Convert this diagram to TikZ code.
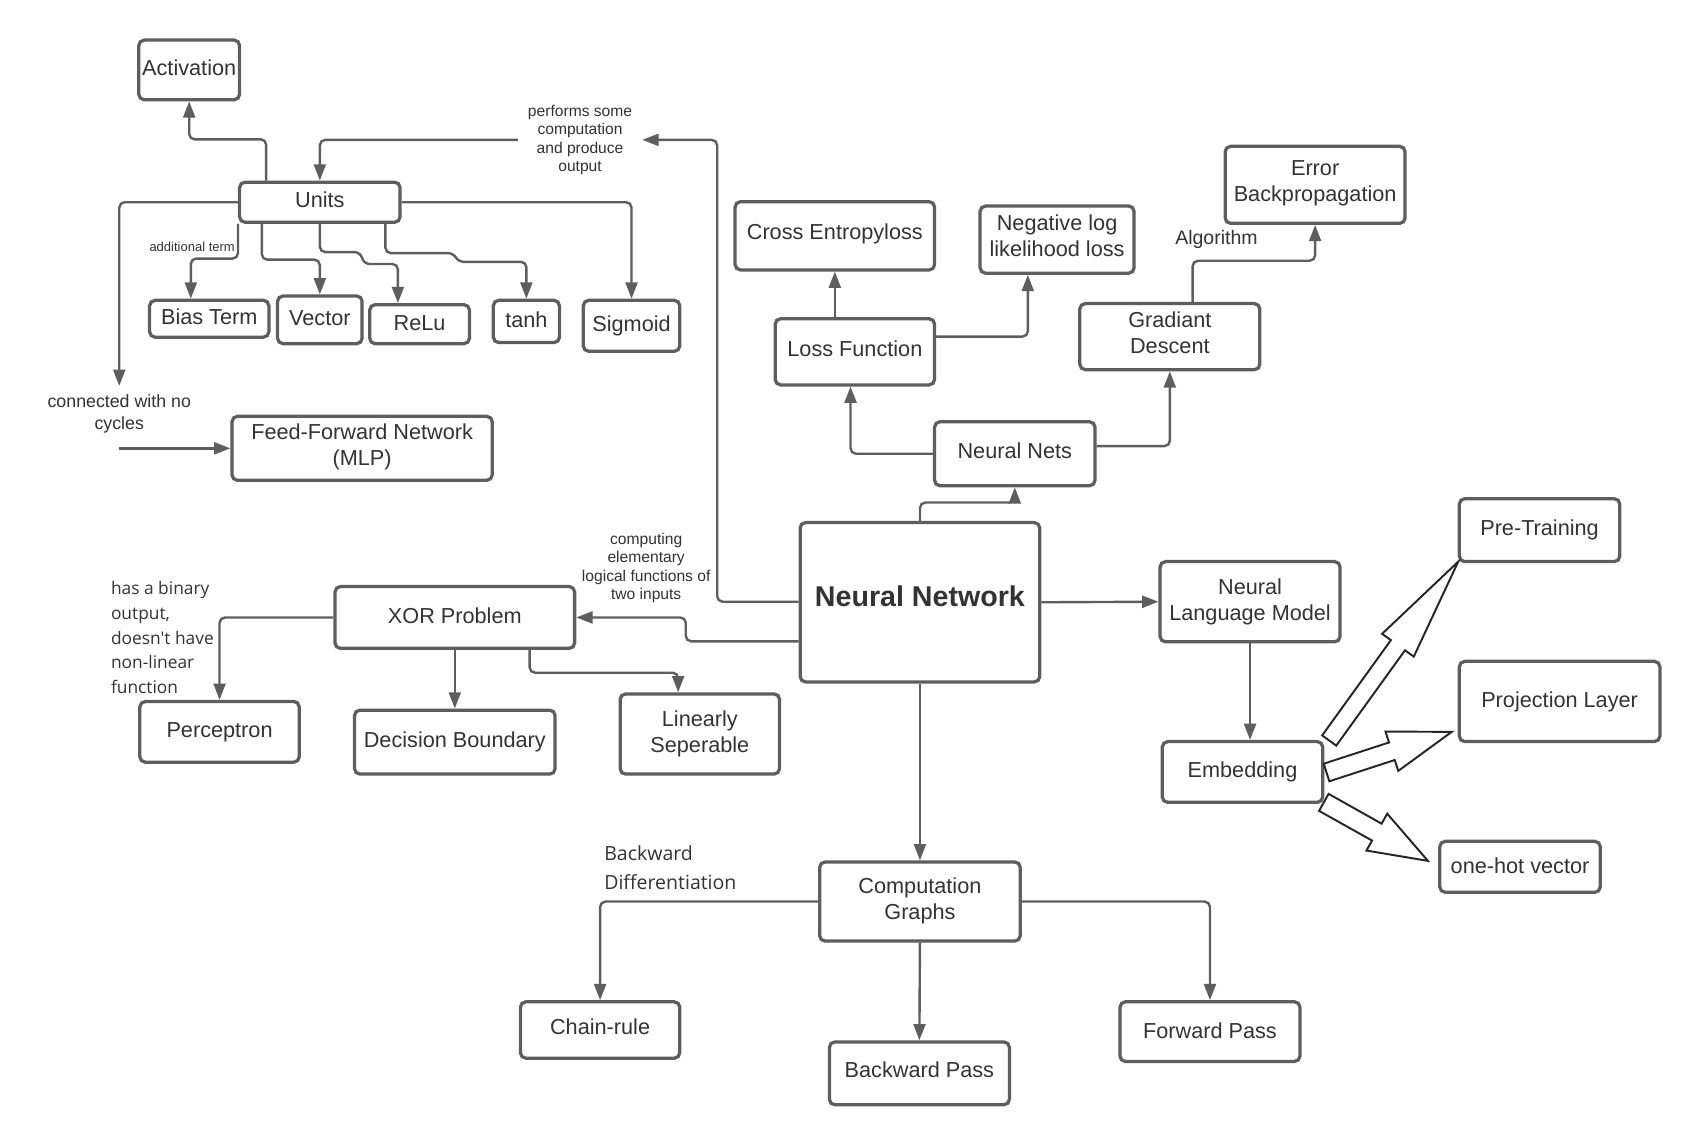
\documentclass[tikz,border=0pt]{standalone}
\usepackage{fontspec}
\setmainfont{Liberation Sans}
\newfontfamily\osans{Open Sans}
\usetikzlibrary{arrows.meta,calc}
\definecolor{ln}{HTML}{5E5E5E}
\definecolor{tx}{HTML}{333333}
\tikzset{
 box/.style={draw=ln, line width=1.5pt, rounded corners=2.5pt, fill=white, inner sep=0pt},
 boxtext/.style={text=tx, inner sep=0pt, align=center, font=\fontsize{10}{12}\selectfont},
 conn/.style={draw=ln, line width=1.1pt, rounded corners=2.5pt, -{Triangle[length=7.5pt,width=5.5pt]}},
 lbl/.style={text=tx, inner sep=0pt, align=center},
 hollow/.style={draw=black!85, line width=0.9pt, fill=white, line join=miter},
}
% [text options]{name}{x1}{y1}{x2}{y2}{text raise in pt}{text}
\newcommand\mybox[8][]{\node[box, minimum width={(#5-#3)*0.5pt}, minimum height={(#6-#4)*0.5pt},
  label={[boxtext,#1,yshift=#7pt]center:{#8}}] (#2) at ({(#3+#5)/2},{(#4+#6)/2}) {};}
\begin{document}
\begin{tikzpicture}[x=0.5pt,y=-0.5pt]
\fill[white] (0,0) rectangle (1568,1045);
\useasboundingbox (0,0) rectangle (1568,1045);
% boxes
\mybox{act}{128}{37}{221}{92}{1}{Activation}
\mybox{units}{221}{168}{369}{205}{1}{Units}
\mybox{bias}{138}{277}{248}{311}{1}{Bias Term}
\mybox{vec}{256}{273}{334}{317}{1}{Vector}
\mybox{relu}{341}{281}{433}{317}{0.5}{ReLu}
\mybox{tanh}{455}{277}{516}{316}{1}{tanh}
\mybox{sig}{538}{277}{627}{324}{0}{Sigmoid}
\mybox{ffn}{214}{384}{454}{443}{0.5}{Feed-Forward Network\\(MLP)}
\mybox{ce}{678}{186}{862}{249}{1}{Cross Entropyloss}
\mybox{nl}{904}{190}{1046}{252}{2}{Negative log\\likelihood loss}
\mybox{eb}{1130}{135}{1296}{206}{0.5}{Error\\Backpropagation}
\mybox{lf}{715}{294}{862}{355}{1.5}{Loss Function}
\mybox{gd}{996}{280}{1162}{341}{2}{Gradiant\\Descent}
\mybox{nnets}{862}{389}{1010}{448}{1.5}{Neural Nets}
\mybox[font=\fontsize{13.2}{15}\selectfont\bfseries]{nn}{738}{482}{959}{629}{3}{Neural Network}
\mybox{nlm}{1070}{518}{1236}{592}{0}{Neural\\Language Model}
\mybox{pre}{1346}{460}{1494}{518}{0}{Pre-Training}
\mybox{proj}{1346}{610}{1531}{684}{0}{Projection Layer}
\mybox{emb}{1072}{684}{1220}{740}{0}{Embedding}
\mybox{onehot}{1328}{776}{1476}{823}{0.5}{one-hot vector}
\mybox{xor}{309}{541}{530}{598}{1}{XOR Problem}
\mybox{perc}{129}{647}{276}{703}{0}{Perceptron}
\mybox{db}{327}{655}{512}{714}{0}{Decision Boundary}
\mybox{ls}{572}{640}{719}{714}{0}{Linearly\\Seperable}
\mybox{cg}{756}{795}{941}{868}{0.5}{Computation\\Graphs}
\mybox{chain}{480}{924}{627}{976}{1.5}{Chain-rule}
\mybox{bp}{765}{961}{931}{1019}{1.5}{Backward Pass}
\mybox{fp}{1033}{924}{1199}{979}{0.5}{Forward Pass}
% labels
\node[lbl, font=\fontsize{7.2}{8.5}\selectfont, inner xsep=4.5pt] (perf) at (535,129) {performs some\\computation\\and produce\\output};
\node[lbl, font=\fontsize{7.2}{8.5}\selectfont] (comp) at (596,524) {computing\\elementary\\logical functions of\\two inputs};
\node[lbl, font=\fontsize{6}{7}\selectfont, anchor=east] (addl) at (217,228) {additional term};
\node[lbl, font=\fontsize{8.2}{10}\selectfont, inner sep=2pt] (cyc) at (110,382) {connected with no\\cycles};
\node[lbl, font=\fontsize{9}{10}\selectfont] (algo) at (1122,221) {Algorithm};
\node[lbl, font=\osans\fontsize{8}{11.5}\selectfont, align=left, anchor=west] (bin) at (102,588) {has a binary\\output,\\doesn't have\\non-linear\\function};
\node[lbl, font=\osans\fontsize{9}{13.5}\selectfont, align=left, anchor=west] (bd) at (557,800) {Backward\\Differentiation};
% connectors
\draw[conn] ([xshift=13pt]units.north west) -- ++(0,-38) -| (act.south);
\draw[conn] ([yshift=0.25pt]nn.west) -- ++(-75,0) |- (perf.east);
\draw[conn] (perf.west) -| (units.north);
\draw[conn] ([yshift=-18pt]nn.west) -- ++(-104,0) |- (xor.east);
\draw[conn] (units.west) -| ([yshift=2pt]cyc.north);
\draw[conn] (cyc.south |- ffn.west) -- (ffn.west);
\draw[conn] (units.south west) -- ++(0,32) -| ([xshift=-8.5pt]bias.north);
\draw[conn] ([xshift=11pt]units.south west) -- ++(0,33) -| (vec.north);
\draw[conn] (units.south) -- ++(0,26) -- ++(37,0) -- ++(4,11) -| ([xshift=-10pt]relu.north);
\draw[conn] ([xshift=-7.5pt]units.south east) -- ++(0,27) -- ++(63,0) -- ++(4,8) -| (tanh.north);
\draw[conn] (units.east) -| (sig.north);
\draw[conn] (lf.north -| ce.south) -- (ce.south);
\draw[conn] ([yshift=7pt]lf.east) -| ([xshift=-13.5pt]nl.south);
\draw[conn] (nnets.west) -| ([xshift=-2pt]lf.south);
\draw[conn] ([yshift=3.5pt]nnets.east) -| (gd.south);
\draw[conn] ([xshift=10.5pt]gd.north) -- ++(0,-38) -| (eb.south);
\draw[conn] (nn.north) -- ++(0,-17) -| (nnets.south);
\draw[conn] (nn.east) -- (nlm.west);
\draw[conn] (nlm.south) -- (nlm.south |- emb.north);
\draw[conn] (xor.west) -| (perc.north);
\draw[conn] (xor.south) -- (db.north);
\draw[conn] ([xshift=34.5pt]xor.south) -- ++(0,21) -| ([xshift=-10pt]ls.north);
\draw[conn] (nn.south) -- (cg.north);
\draw[conn] (cg.west) -| (chain.north);
\draw[conn] (cg.south) -- (bp.north);
\draw[conn] (cg.east) -| (fp.north);
% hollow block arrows
\draw[hollow] (1219.5,678.3) -- (1282.9,590.4) -- (1274.8,584.6) -- (1345,518) -- (1304.0,605.6) -- (1295.9,599.8) -- (1232.5,687.7) -- cycle;
\draw[hollow] (1220.9,704.4) -- (1281.2,684.8) -- (1277.9,674.8) -- (1339,675) -- (1289.7,711.0) -- (1286.4,701.0) -- (1226.1,720.6) -- cycle;
\draw[hollow] (1225.4,732.2) -- (1274.3,759.7) -- (1279.5,750.5) -- (1317,794) -- (1260.3,784.5) -- (1265.5,775.3) -- (1216.6,747.9) -- cycle;
\end{tikzpicture}
\end{document}
